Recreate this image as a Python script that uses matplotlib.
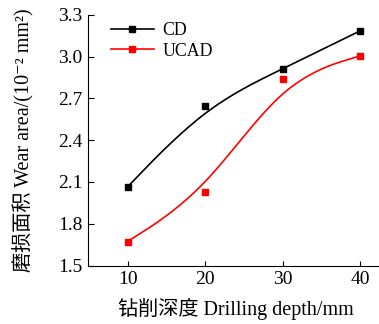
import numpy as np
import matplotlib
matplotlib.use("Agg")
import matplotlib.pyplot as plt

plt.rcParams['font.family'] = ['Liberation Serif', 'Noto Sans CJK SC', 'DejaVu Serif']

depth = [10, 20, 30, 40]
cd = [2.065, 2.643, 2.913, 3.186]
ucad = [1.672, 2.026, 2.839, 3.006]
yticks = [1.5, 1.8, 2.1, 2.4, 2.7, 3.0, 3.3]


def bspline(x, y, n=40):
    # uniform cubic B-spline, data points as control points, ends clamped
    p = np.column_stack([x, y]).astype(float)
    p = np.vstack([p[:1], p[:1], p, p[-1:], p[-1:]])
    t = np.linspace(0, 1, n)
    b = np.array([(1 - t)**3, 3*t**3 - 6*t**2 + 4, -3*t**3 + 3*t**2 + 3*t + 1, t**3]) / 6
    pts = [b.T @ p[i:i + 4] for i in range(len(p) - 3)]
    pts = np.vstack(pts)
    return pts[:, 0], pts[:, 1]


W, H = 379, 324
fig = plt.figure(figsize=(W / 100, H / 100), dpi=100)
ax = fig.add_axes([88 / W, 1 - 265.5 / H, 290 / W, 250.5 / H])

for vals, col, name in [(cd, 'black', 'CD'), (ucad, 'red', 'UCAD')]:
    sx, sy = bspline(depth, vals)
    ax.plot(sx, sy, color=col, lw=1.2)
    ax.plot(depth, vals, ls='none', marker='s', ms=4.8, color=col)
    ax.plot([], [], color=col, lw=1.2, marker='s', ms=4.8, label=name)

ax.set_xlim(4.9, 42.3)
ax.set_ylim(1.5, 3.3)
ax.set_xticks(depth)
ax.set_yticks(yticks)
ax.set_yticklabels([f"{v:.1f}" for v in yticks])
ax.spines['top'].set_visible(False)
ax.spines['right'].set_visible(False)
ax.spines['left'].set_linewidth(0.8)
ax.spines['bottom'].set_linewidth(0.8)
ax.tick_params(direction='in', labelsize=14, width=0.8)
ax.tick_params(axis='x', length=3.5, pad=4)
ax.tick_params(axis='y', length=4.5, pad=4)

ax.set_xlabel('钻削深度 Drilling depth/mm', fontsize=14.5)
ax.set_ylabel('磨损面积 Wear area/(10⁻² mm²)', fontsize=14.5)
ax.xaxis.set_label_coords(0.51, (265.5 - 297.5) / 250.5)
ax.yaxis.set_label_coords((34 - 88) / 290, 0.5)

ax.legend(loc='upper left', frameon=False, fontsize=12.8, handlelength=2.4,
          handletextpad=0.5, labelspacing=0.2, borderaxespad=0.0,
          bbox_to_anchor=(0.055, 1.0))

fig.savefig('out.png', dpi=100)
